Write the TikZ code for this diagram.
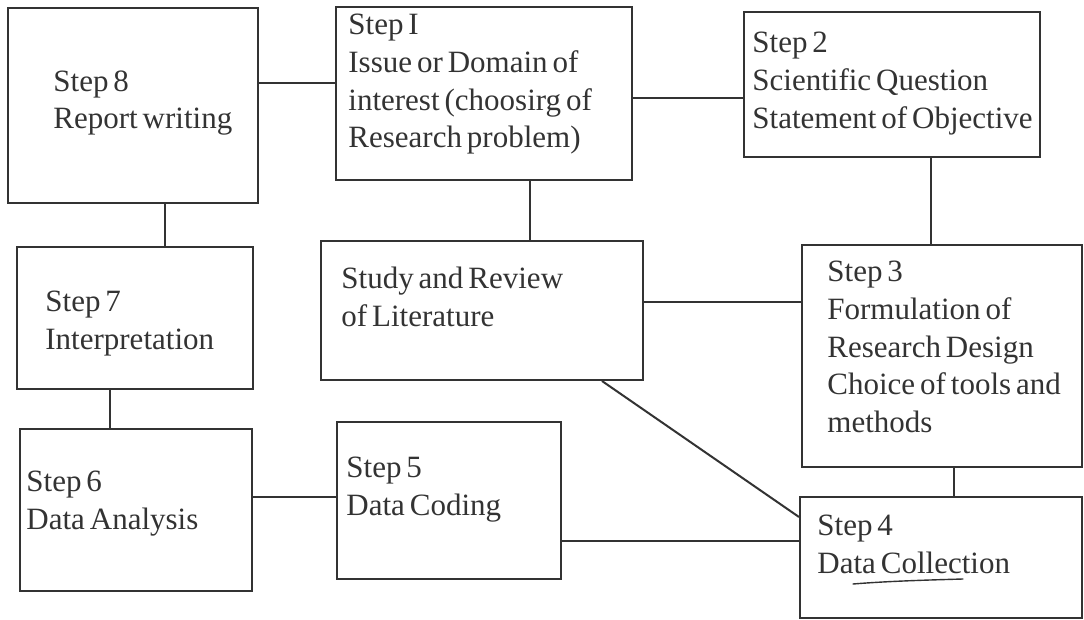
\documentclass[tikz,border=0pt]{standalone}
\usepackage{fontspec}
\setmainfont{Liberation Serif}
\usetikzlibrary{fit}
\newcommand\stepfont{\fontsize{15.5}{18.8}\selectfont\setlength{\spaceskip}{0.16em plus 0.05em}}
\begin{document}
\begin{tikzpicture}[x=0.5pt,y=-0.5pt,
  stepbox/.style={draw=black!80,line width=1pt,inner sep=0pt},
  steptext/.style={anchor=north west,inner sep=0pt,align=left,text=black!80,font=\stepfont},
  link/.style={draw=black!80,line width=1pt}]
  \useasboundingbox (0,0) rectangle (1084,620);
  % boxes
  \node[stepbox,fit={(8,8) (258,203)}] (s8) {};
  \node[stepbox,fit={(336,7) (632,180)}] (s1) {};
  \node[stepbox,fit={(744,12) (1040,157)}] (s2) {};
  \node[stepbox,fit={(321,241) (643,380)}] (lit) {};
  \node[stepbox,fit={(802,245) (1082,467)}] (s3) {};
  \node[stepbox,fit={(800,497) (1082,618)}] (s4) {};
  \node[stepbox,fit={(337,422) (561,579)}] (s5) {};
  \node[stepbox,fit={(17,247) (253,389)}] (s7) {};
  \node[stepbox,fit={(20,429) (252,591)}] (s6) {};
  % texts
  \node[steptext] (s8t) at (53,70) {Step 8\\Report writing};
  \node[steptext] (s1t) at (348,14) {Step I\\Issue or Domain of\\interest (choosirg of\\Research problem)};
  \node[steptext] (s2t) at (752,32) {Step 2\\Scientific Question\\Statement of Objective};
  \node[steptext] (litt) at (341,267) {Study and Review\\of Literature};
  \node[steptext] (s3t) at (827,261) {Step 3\\Formulation of\\Research Design\\Choice of tools and\\methods};
  \node[steptext] (s4t) at (817,515) {Step 4\\Data Collection};
  \node[steptext] (s5t) at (346,457) {Step 5\\Data Coding};
  \node[steptext] (s7t) at (45,291) {Step 7\\Interpretation};
  \node[steptext] (s6t) at (26,471) {Step 6\\Data Analysis};
  % connectors
  \draw[link] (s8.east |- 0,83) -- (s1.west |- 0,83);
  \draw[link] (s1.east |- 0,98) -- (s2.west |- 0,98);
  \draw[link] (s1.south -| 530,0) -- (lit.north -| 530,0);
  \draw[link] (s2.south -| 931,0) -- (s3.north -| 931,0);
  \draw[link] (lit.east |- 0,302) -- (s3.west |- 0,302);
  \draw[link] (lit.south -| 602,0) -- (s4.west |- 0,517);
  \draw[link] (s3.south -| 954,0) -- (s4.north -| 954,0);
  \draw[link] (s5.east |- 0,541) -- (s4.west |- 0,541);
  \draw[link] (s6.east |- 0,497) -- (s5.west |- 0,497);
  \draw[link] (s7.south -| 110,0) -- (s6.north -| 110,0);
  \draw[link] (s8.south -| 165,0) -- (s7.north -| 165,0);
  % pen mark under "Collection"
  \draw[black!80,line width=0.7pt,line cap=round] (853,584) .. controls (890,581) and (930,580) .. (963,579);
\end{tikzpicture}
\end{document}
